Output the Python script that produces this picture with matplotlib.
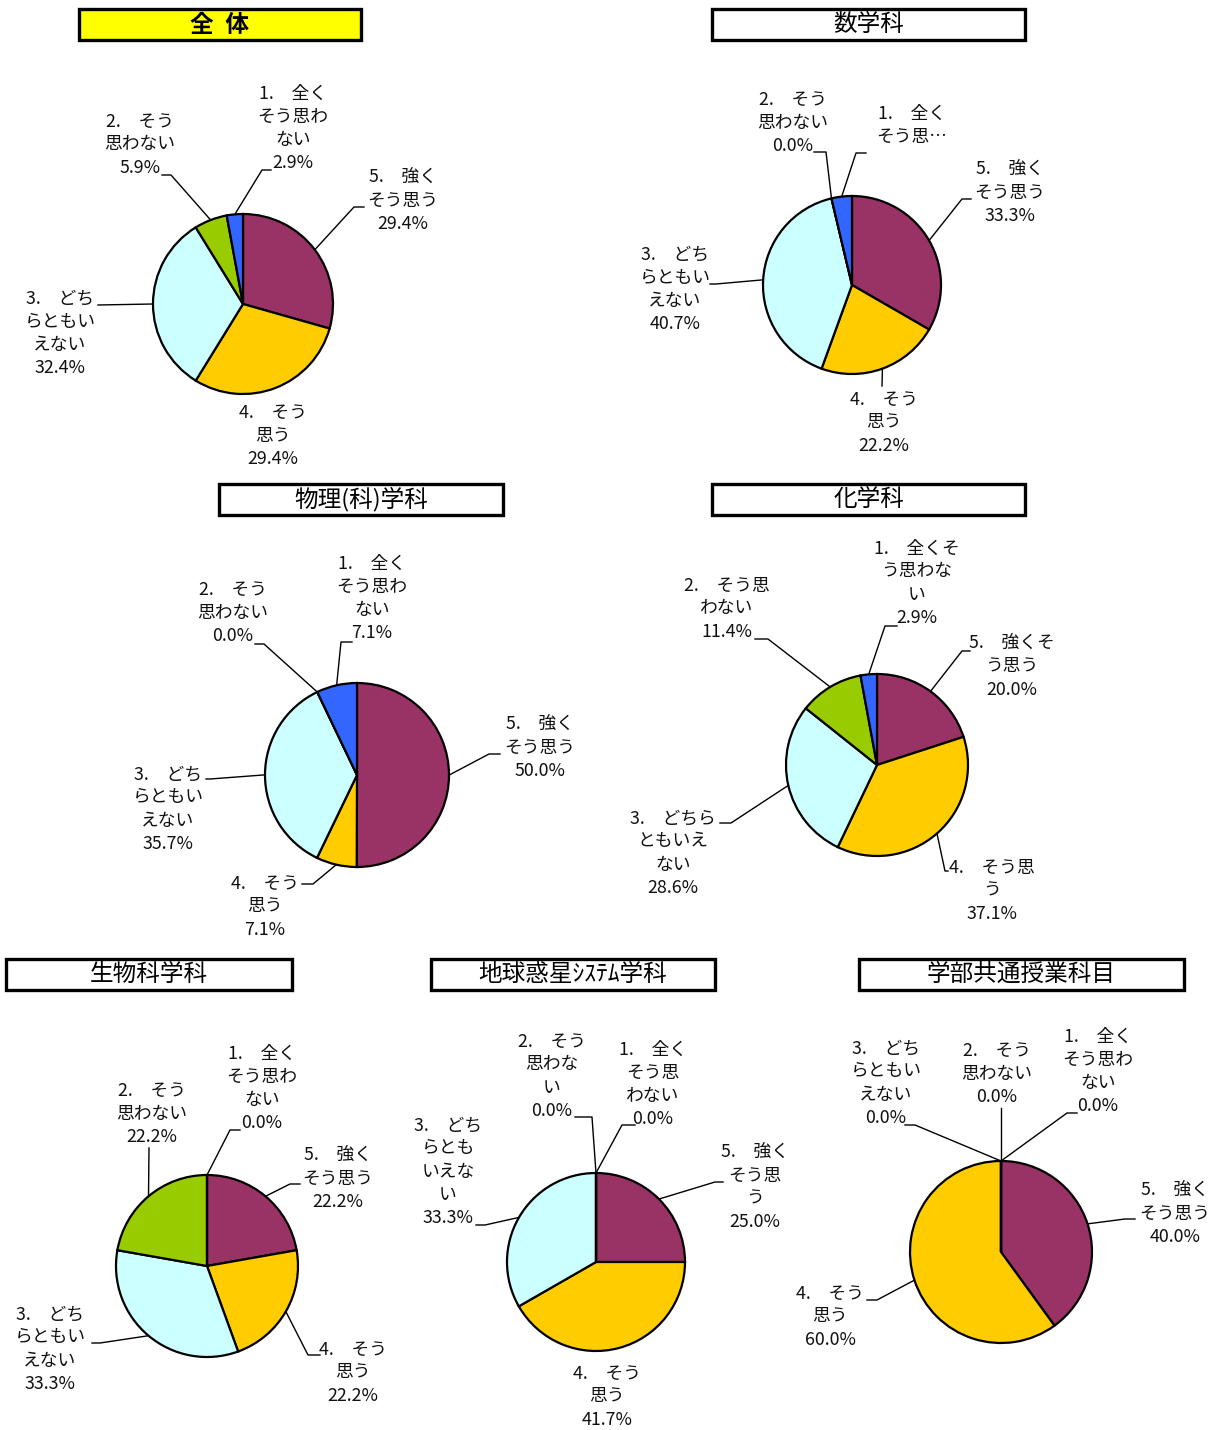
import matplotlib
matplotlib.use('Agg')
import matplotlib.pyplot as plt
import numpy as np
from matplotlib.patches import Rectangle

plt.rcParams['font.family'] = ['Noto Sans CJK JP', 'DejaVu Sans']

W, H = 1219, 1430

# answer categories, clockwise from 12 o'clock: 5 -> 1
COLORS = ['#993366', '#FFCC00', '#CCFFFF', '#99CC00', '#3366FF']

titles = ['全\u2002体', '数学科', '物理(科)学科', '化学科',
          '生物科学科', '地球惑星ｼｽﾃﾑ学科', '学部共通授業科目']

vals_all = [29.4, 29.4, 32.4, 5.9, 2.9]
vals_math = [33.3, 22.2, 40.7, 0.0, 3.7]
vals_phys = [50.0, 7.1, 35.7, 0.0, 7.1]
vals_chem = [20.0, 37.1, 28.6, 11.4, 2.9]
vals_bio = [22.2, 22.2, 33.3, 22.2, 0.0]
vals_earth = [25.0, 41.7, 33.3, 0.0, 0.0]
vals_common = [40.0, 60.0, 0.0, 0.0, 0.0]

# category text as wrapped in each chart ("…" = truncated label, no percent)
S = '\u3000'
lab_std = [f'5.{S}強く\nそう思う', f'4.{S}そう\n思う', f'3.{S}どち\nらともい\nえない',
           f'2.{S}そう\n思わない', f'1.{S}全く\nそう思わ\nない']
lab_math = [f'5.{S}強く\nそう思う', f'4.{S}そう\n思う', f'3.{S}どち\nらともい\nえない',
            f'2.{S}そう\n思わない', f'1.{S}全く\nそう思…']
lab_chem = [f'5.{S}強くそ\nう思う', f'4.{S}そう思\nう', f'3.{S}どちら\nともいえ\nない',
            f'2.{S}そう思\nわない', f'1.{S}全くそ\nう思わな\nい']
lab_earth = [f'5.{S}強く\nそう思\nう', f'4.{S}そう\n思う', f'3.{S}どち\nらとも\nいえな\nい',
             f'2.{S}そう\n思わな\nい', f'1.{S}全く\nそう思\nわない']

# layout in pixels from the top-left corner
panels = [
    dict(vals=vals_all, labels=lab_std, c=(243, 304), r=90, box=(79, 361, 9, 40),
         txt=[(403, 201), (273, 435.5), (60, 333.5), (140, 144.5), (293, 128)],
         lead=[[(354, 207), (364, 207)], None, [(98, 305)],
               [(171, 175), (162, 175)], [(262, 170), (271, 170)]]),
    dict(vals=vals_math, labels=lab_math, c=(852, 285), r=89, box=(712, 1025, 9, 40),
         txt=[(1010, 192.5), (884, 422.5), (675, 289.5), (793, 123), (912, 125)],
         lead=[[(962, 199), (971, 199)], [(882, 386)], [(716, 284), (710, 284)],
               [(826, 152), (814, 152)], [(856, 153), (866, 153)]]),
    dict(vals=vals_phys, labels=lab_std, c=(357, 775), r=92, box=(219, 503, 484, 515),
         txt=[(540, 747.5), (265, 906.5), (168, 809), (233, 613), (372, 598)],
         lead=[[(489, 754), (500, 754)], [(313, 884), (302, 884)], [(210, 779), (206, 779)],
               [(264, 644), (255, 644)], [(341, 642), (352, 642)]]),
    dict(vals=vals_chem, labels=lab_chem, c=(877, 765), r=91, box=(712, 1025, 484, 515),
         txt=[(1012, 666.5), (992, 890.5), (673, 853), (727, 608.5), (917, 583)],
         lead=[[(962, 651), (970, 651)], [(945, 871), (948, 871)], [(731, 823), (720, 823)],
               [(768, 639), (755, 639)], [(885, 626), (897, 626)]]),
    dict(vals=vals_bio, labels=lab_std, c=(207, 1266), r=91, box=(6, 292, 959, 990),
         txt=[(338, 1178.5), (353, 1372.5), (50, 1349), (152, 1113.5), (262, 1088)],
         lead=[[(290, 1184), (300, 1184)], [(308, 1355), (320, 1355)], [(100, 1343), (92, 1343)],
               [(149, 1148)], [(230, 1130), (240, 1130)]]),
    dict(vals=vals_earth, labels=lab_earth, c=(596, 1262), r=89, box=(431, 715, 959, 990),
         txt=[(755, 1187), (607, 1396.5), (448, 1171.5), (552, 1076), (653, 1084)],
         lead=[[(715, 1182), (723, 1182)], None, [(485, 1225), (476, 1225)],
               [(592, 1117), (575, 1117)], [(622, 1125), (635, 1125)]]),
    dict(vals=vals_common, labels=lab_std, c=(1001, 1252), r=91, box=(859, 1184, 959, 990),
         txt=[(1175, 1213.5), (830, 1316.5), (886, 1083), (997, 1073.5), (1098, 1071)],
         lead=[[(1125, 1219), (1135, 1219)], [(877, 1300), (867, 1300)], [(915, 1125), (905, 1125)],
               [(1001, 1108)], [(1067, 1113), (1077, 1113)]]),
]

fig = plt.figure(figsize=(W / 100, H / 100), dpi=100)
ax = fig.add_axes([0, 0, 1, 1])

for i, p in enumerate(panels):
    cx, cy = p['c'][0], H - p['c'][1]
    wedges, _ = ax.pie(p['vals'], colors=COLORS, startangle=90, counterclock=False,
                       center=(cx, cy), radius=p['r'], frame=True,
                       wedgeprops=dict(edgecolor='black', linewidth=1.6))

    for w, lab, v, (tx, ty), lead in zip(wedges, p['labels'], p['vals'], p['txt'], p['lead']):
        s = lab if lab.endswith('…') else f'{lab}\n{v:.1f}%'
        ax.text(tx, H - ty, s, ha='center', va='center', fontsize=12.8,
                linespacing=1.36, color='#111111')
        if lead is not None:
            mid = np.deg2rad((w.theta1 + w.theta2) / 2)
            xs = [cx + p['r'] * np.cos(mid)] + [q[0] for q in lead]
            ys = [cy + p['r'] * np.sin(mid)] + [H - q[1] for q in lead]
            ax.plot(xs, ys, color='black', lw=1.0)

    x0, x1, y0, y1 = p['box']
    fc = '#FFFF00' if i == 0 else 'white'
    ax.add_patch(Rectangle((x0, H - y1), x1 - x0, y1 - y0, facecolor=fc,
                           edgecolor='black', linewidth=2.4, zorder=3))
    ax.text((x0 + x1) / 2, H - (y0 + y1) / 2, titles[i], ha='center', va='center',
            fontsize=17, fontweight='bold' if i == 0 else 'normal', zorder=4)

ax.set_xlim(0, W)
ax.set_ylim(0, H)
ax.axis('off')
fig.savefig('out.png', dpi=100)
